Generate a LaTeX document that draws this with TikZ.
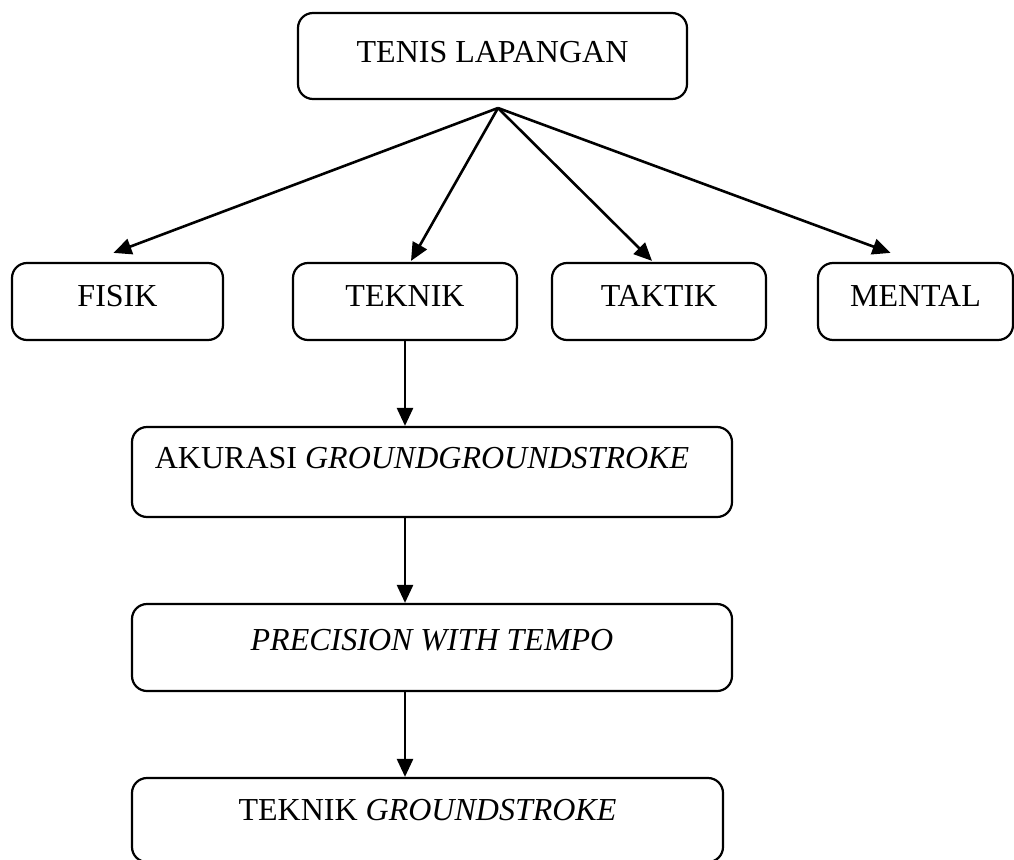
\documentclass[tikz,border=0pt]{standalone}
\usepackage{fontspec}
\setmainfont{Liberation Serif}
\usetikzlibrary{arrows.meta}

\tikzset{
  box/.style={draw, line width=2.2pt, rounded corners=15pt, inner sep=0pt,
    font=\fontsize{32}{38}\selectfont},
  arr/.style={line width=2.6pt, -{Triangle[length=18pt,width=16pt]}}
}

\begin{document}
\begin{tikzpicture}[x=1pt, y=-1pt]
\useasboundingbox (0,0) rectangle (1014,859);

% Top box
\node[box, minimum width=389pt, minimum height=86pt, text depth=8pt] (tenis) at (492.5,56) {TENIS LAPANGAN};
\coordinate (fork) at (498,108);

% Second row
\node[box, minimum width=211pt, minimum height=77pt, text depth=11pt] (fisik) at (117.5,301.5) {FISIK};
\node[box, minimum width=224pt, minimum height=77pt, text depth=11pt] (teknik) at (405,301.5) {TEKNIK};
\node[box, minimum width=214pt, minimum height=77pt, text depth=11pt] (taktik) at (659,301.5) {TAKTIK};
\node[box, minimum width=195pt, minimum height=77pt, text depth=11pt] (mental) at (915.5,301.5) {MENTAL};

% Arrows from top box
\draw[arr] (fork) -- ([xshift=-4pt,yshift=9pt]fisik.north);
\draw[arr] (fork) -- ([xshift=6pt,yshift=1pt]teknik.north);
\draw[arr] (fork) -- ([xshift=-7pt,yshift=1pt]taktik.north);
\draw[arr] (fork) -- ([xshift=-25pt,yshift=9pt]mental.north);

% Chain below TEKNIK
\node[box, minimum width=600pt, minimum height=90pt, text depth=28pt] (akurasi) at (432,472) {\hspace*{-20pt}AKURASI \textit{GROUNDGROUNDSTROKE}};
\node[box, minimum width=600pt, minimum height=87pt, text depth=15pt] (precision) at (432,647.5) {\textit{PRECISION WITH TEMPO}};
\node[box, minimum width=591pt, minimum height=84pt, text depth=20pt] (stroke) at (427.5,820) {TEKNIK \textit{GROUNDSTROKE}};

\draw[arr] (teknik.south) -- (teknik.south |- akurasi.north);
\draw[arr] (teknik.south |- akurasi.south) -- (teknik.south |- precision.north);
\draw[arr] (teknik.south |- precision.south) -- (teknik.south |- stroke.north);
\end{tikzpicture}
\end{document}
